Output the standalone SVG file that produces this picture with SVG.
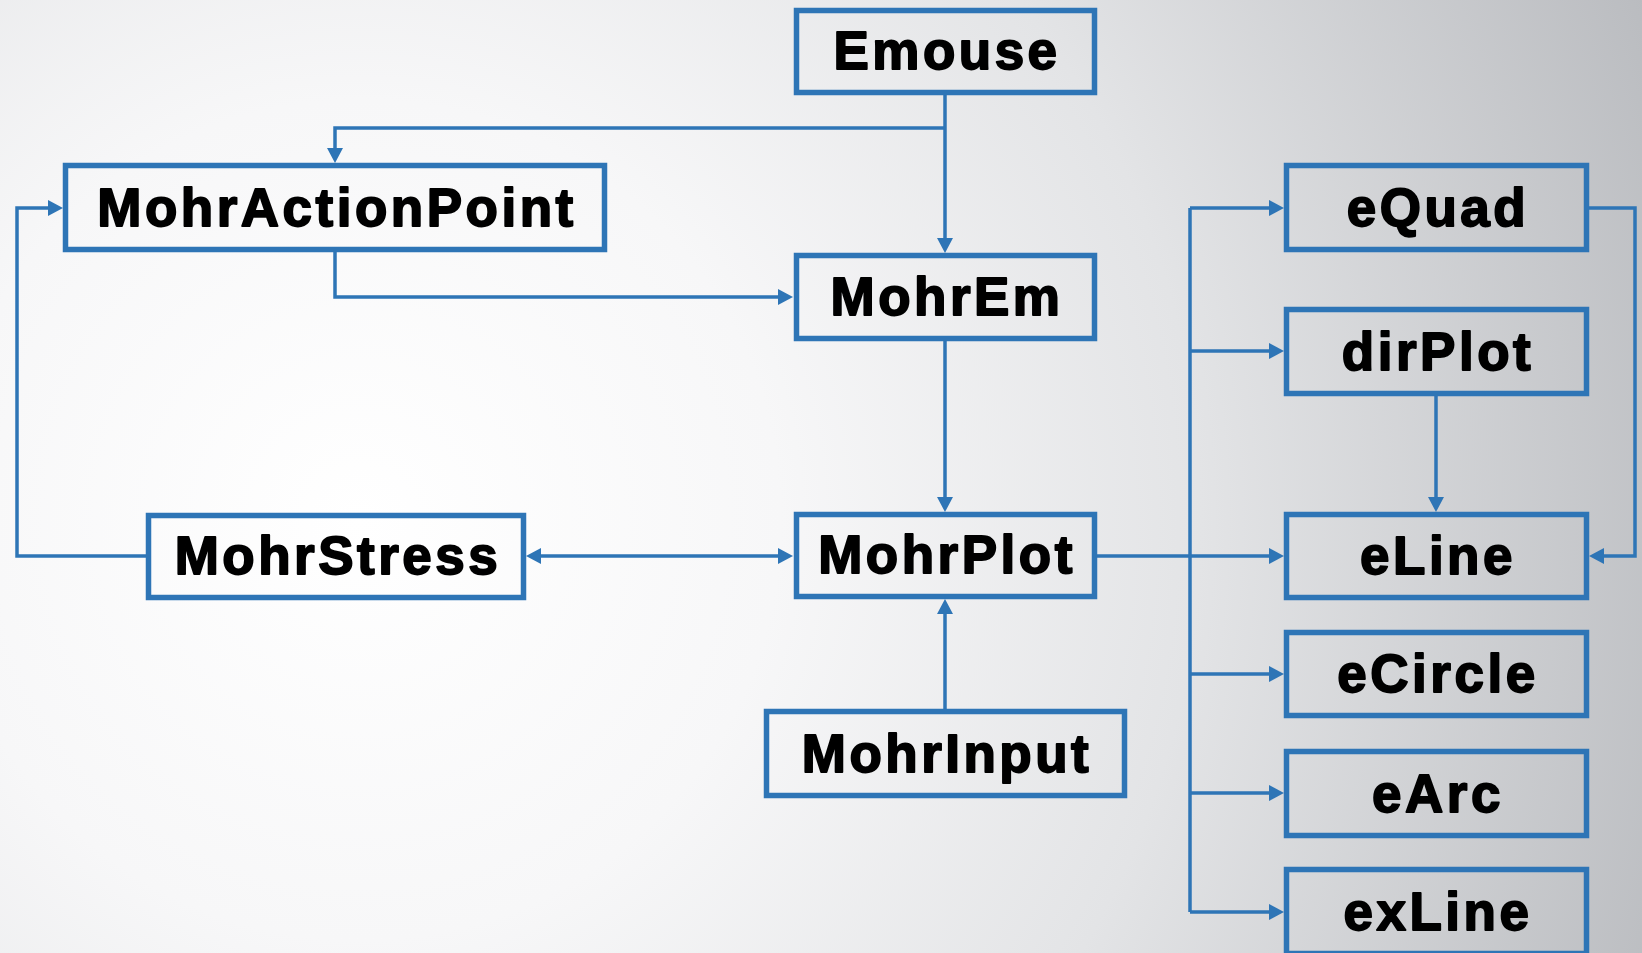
<svg xmlns="http://www.w3.org/2000/svg" width="1642" height="953" viewBox="0 0 1642 953">
<defs>
<radialGradient id="bg" gradientUnits="userSpaceOnUse" cx="360" cy="520" r="1400">
<stop offset="0" stop-color="#ffffff"/>
<stop offset="0.3" stop-color="#f7f7f8"/>
<stop offset="0.6" stop-color="#e3e4e6"/>
<stop offset="1" stop-color="#b9bbbf"/>
</radialGradient>
<marker id="arr" markerUnits="userSpaceOnUse" markerWidth="18" markerHeight="18" refX="11" refY="8" orient="auto-start-reverse">
<path d="M0,0 L15,8 L0,16 Z" fill="#2E75B6"/>
</marker>
<style>
.box{fill:none;stroke:#2E75B6;stroke-width:5.5;}
.lbl{font-family:"Liberation Sans",Arial,sans-serif;font-weight:bold;font-size:53px;letter-spacing:3.5px;fill:#000;stroke:#000;stroke-width:1.8px;stroke-linejoin:round;text-anchor:middle;}
.c{fill:none;stroke:#2E75B6;stroke-width:3.5;}
.a{marker-end:url(#arr);}
</style>
</defs>
<rect x="0" y="0" width="1642" height="953" fill="url(#bg)"/>
<g id="connectors">
<path class="c a" d="M945,95 V249"/>
<path class="c a" d="M945,128 H335 V159"/>
<path class="c a" d="M335,252 V297 H789"/>
<path class="c a" d="M945,341 V508"/>
<path class="c a" d="M530,556 H789" marker-start="url(#arr)"/>
<path class="c a" d="M146,556 H17 V208 H59"/>
<path class="c a" d="M945,709 V603"/>
<path class="c a" d="M1097,556 H1280"/>
<path class="c" d="M1190,208 V912"/>
<path class="c a" d="M1190,208 H1280"/>
<path class="c a" d="M1190,351 H1280"/>
<path class="c a" d="M1190,674 H1280"/>
<path class="c a" d="M1190,793 H1280"/>
<path class="c a" d="M1190,912 H1280"/>
<path class="c a" d="M1436,396 V508"/>
<path class="c a" d="M1589,208 H1635 V556 H1593"/>
</g>
<g id="Emouse"><rect class="box" x="796.5" y="10.5" width="298" height="82"/><text class="lbl" x="947" y="69">Emouse</text></g>
<g id="MohrActionPoint"><rect class="box" x="65.5" y="165.5" width="539" height="84"/><text class="lbl" x="337" y="226">MohrActionPoint</text></g>
<g id="MohrEm"><rect class="box" x="796.5" y="255.5" width="298" height="83"/><text class="lbl" x="947" y="315">MohrEm</text></g>
<g id="MohrStress"><rect class="box" x="148.5" y="515.5" width="375" height="82"/><text class="lbl" x="338" y="574">MohrStress</text></g>
<g id="MohrPlot"><rect class="box" x="796.5" y="514.5" width="298" height="82"/><text class="lbl" x="947" y="573">MohrPlot</text></g>
<g id="MohrInput"><rect class="box" x="766.5" y="711.5" width="358" height="84"/><text class="lbl" x="947" y="772">MohrInput</text></g>
<g id="eQuad"><rect class="box" x="1286.5" y="165.5" width="300" height="84"/><text class="lbl" x="1438" y="226">eQuad</text></g>
<g id="dirPlot"><rect class="box" x="1286.5" y="309.5" width="300" height="84"/><text class="lbl" x="1438" y="370">dirPlot</text></g>
<g id="eLine"><rect class="box" x="1286.5" y="514.5" width="300" height="83"/><text class="lbl" x="1438" y="574">eLine</text></g>
<g id="eCircle"><rect class="box" x="1286.5" y="632.5" width="300" height="83"/><text class="lbl" x="1438" y="692">eCircle</text></g>
<g id="eArc"><rect class="box" x="1286.5" y="751.5" width="300" height="84"/><text class="lbl" x="1438" y="812">eArc</text></g>
<g id="exLine"><rect class="box" x="1286.5" y="869.5" width="300" height="84"/><text class="lbl" x="1438" y="930">exLine</text></g>
</svg>
